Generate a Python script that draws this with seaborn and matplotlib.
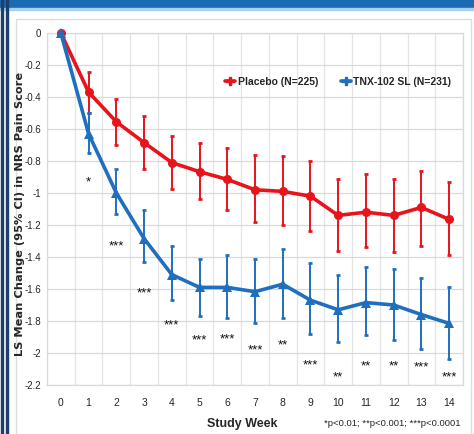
import numpy as np
import pandas as pd
import seaborn as sns
import matplotlib.pyplot as plt
from matplotlib.patches import Rectangle
from matplotlib.lines import Line2D

weeks = list(range(15))
placebo = [0, -0.37, -0.555, -0.685, -0.81, -0.867, -0.915, -0.98, -0.99, -1.02, -1.14, -1.12, -1.14, -1.09, -1.165]
placebo_hi = [0, -0.245, -0.415, -0.52, -0.645, -0.69, -0.72, -0.76, -0.77, -0.80, -0.91, -0.88, -0.91, -0.86, -0.93]
placebo_lo = [0, -0.50, -0.70, -0.85, -0.975, -1.04, -1.105, -1.18, -1.20, -1.24, -1.36, -1.34, -1.37, -1.33, -1.39]
tnx = [0, -0.63, -1.0, -1.285, -1.51, -1.59, -1.59, -1.617, -1.57, -1.67, -1.73, -1.685, -1.70, -1.76, -1.815]
tnx_hi = [0, -0.50, -0.85, -1.105, -1.33, -1.41, -1.39, -1.41, -1.35, -1.44, -1.51, -1.46, -1.475, -1.53, -1.585]
tnx_lo = [0, -0.75, -1.13, -1.43, -1.67, -1.77, -1.78, -1.81, -1.78, -1.88, -1.93, -1.89, -1.92, -1.975, -2.04]
stars = ['', '*', '***', '***', '***', '***', '***', '***', '**', '***', '**', '**', '**', '***', '***']
star_y = [0, -0.935, -1.335, -1.63, -1.825, -1.92, -1.915, -1.985, -1.95, -2.08, -2.15, -2.085, -2.085, -2.09, -2.15]
yticks = [0, -0.2, -0.4, -0.6, -0.8, -1, -1.2, -1.4, -1.6, -1.8, -2, -2.2]
ytick_labels = ['0', '-0.2', '-0.4', '-0.6', '-0.8', '-1', '-1.2', '-1.4', '-1.6', '-1.8', '-2', '-2.2']

red = '#e8141b'
blue = '#1f6fbf'
narrow = ['Liberation Sans', 'DejaVu Sans']

sns.set_style('white')
plt.rcParams['font.family'] = narrow

fig = plt.figure(figsize=(4.74, 4.34), dpi=100)

# frame decorations
fig.patches.append(Rectangle((0, 1 - 8 / 434), 1, 8 / 434, transform=fig.transFigure,
                             color='#1a6bb0', zorder=0))
fig.patches.append(Rectangle((0, 1 - 10 / 434), 1, 2 / 434, transform=fig.transFigure,
                             color='#a9d0ee', zorder=0))
for x0 in [1, 6]:
    fig.patches.append(Rectangle((x0 / 474, 0), 2 / 474, 1, transform=fig.transFigure,
                                 color='#1d3f6e', zorder=0))
fig.patches.append(Rectangle((16 / 474, -0.01), (471 - 16) / 474, 1 - 19 / 434 + 0.01,
                             transform=fig.transFigure, fill=False, ec='#dddddd', lw=1, zorder=0))

ax = fig.add_axes([47 / 474, 1 - 385 / 434, (463 - 47) / 474, (385 - 33) / 434])

df = pd.DataFrame({'week': weeks * 2,
                   'value': placebo + tnx,
                   'group': ['Placebo (N=225)'] * 15 + ['TNX-102 SL (N=231)'] * 15})

ax.errorbar(weeks, placebo,
            yerr=[np.array(placebo) - np.array(placebo_lo), np.array(placebo_hi) - np.array(placebo)],
            fmt='none', ecolor=red, elinewidth=1.4, capsize=1.5, capthick=2, zorder=3, clip_on=False)
ax.errorbar(weeks, tnx,
            yerr=[np.array(tnx) - np.array(tnx_lo), np.array(tnx_hi) - np.array(tnx)],
            fmt='none', ecolor=blue, elinewidth=1.4, capsize=1.5, capthick=2, zorder=3, clip_on=False)

sns.lineplot(data=df, x='week', y='value', hue='group', style='group',
             palette=[red, blue], markers=['o', '^'], dashes=False,
             linewidth=2.6, markersize=6.5, markeredgewidth=0, legend=False, ax=ax, zorder=4)
for ln in ax.lines:
    ln.set_clip_on(False)

for w, s, y in zip(weeks, stars, star_y):
    if s:
        ax.text(w, y, s, ha='center', va='center', fontsize=9.5, color='#111111')

ax.set_xlim(-0.5, 14.5)
ax.set_ylim(-2.2, 0)
ax.set_xticks(weeks)
ax.set_xticklabels([str(w) for w in weeks], fontsize=7.5)
ax.set_yticks(yticks)
ax.set_yticklabels(ytick_labels, fontsize=7)
ax.set_xticks(np.arange(-0.5, 15, 1), minor=True)
ax.grid(which='minor', axis='x', color='#e4e4e4', lw=0.9)
ax.grid(which='major', axis='y', color='#d9d9d9', lw=0.9)
ax.tick_params(which='both', length=0)
ax.tick_params(axis='x', pad=9)
ax.tick_params(axis='y', pad=4)
for sp in ['top', 'right', 'left', 'bottom']:
    ax.spines[sp].set_color('#d9d9d9')
    ax.spines[sp].set_linewidth(0.9)
ax.set_xlabel('')
ax.set_ylabel('')

handles = [Line2D([], [], color=red, lw=2.6, marker='P', markersize=6),
           Line2D([], [], color=blue, lw=2.6, marker='P', markersize=6)]
ax.legend(handles, ['Placebo (N=225)', 'TNX-102 SL (N=231)'], loc='center',
          bbox_to_anchor=(0.7, 0.862), ncol=2, frameon=False,
          handlelength=1.0, handletextpad=0.2, columnspacing=2.2,
          prop={'family': narrow, 'weight': 'bold', 'size': 7.5})

fig.text(20 / 474, 1 - 214 / 434, 'LS Mean Change (95% CI) in NRS Pain Score', rotation=90,
         ha='center', va='center', fontsize=8.2, fontweight='bold', family='DejaVu Sans')
fig.text(242 / 474, 1 - 424 / 434, 'Study Week', ha='center', va='center',
         fontsize=9, fontweight='bold')
fig.text(392 / 474, 1 - 424 / 434, '*p<0.01; **p<0.001; ***p<0.0001', ha='center', va='center',
         fontsize=6.8)

fig.savefig('out.png', dpi=100)
